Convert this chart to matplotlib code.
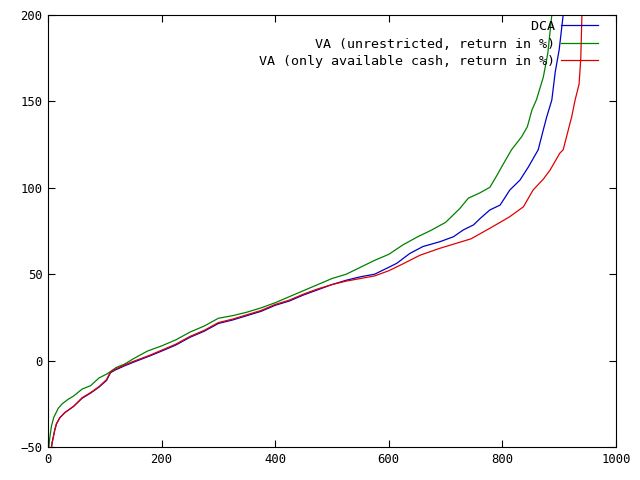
import matplotlib
matplotlib.use("Agg")
import matplotlib.pyplot as plt

# ---- data (sorted returns per run) ----
green_x = [0, 3, 6, 10, 18, 25, 35, 45, 60, 75, 90, 105, 120, 135, 150, 175, 200, 225,
           250, 275, 300, 325, 350, 375, 400, 425, 450, 475, 500, 525, 550, 575, 600,
           625, 650, 675, 700, 725, 740, 760, 778, 790, 802, 816, 834, 844, 852, 860,
           872, 880, 887, 890]
green_y = [-55, -45, -38, -33, -27.6, -25, -22.5, -20.5, -16.5, -14.5, -10, -7.5, -4, -2,
           1, 5.5, 8.5, 12, 16.5, 20, 24.5, 26, 28, 30.5, 33.5, 37, 40.5, 44, 47.5, 50,
           54, 58, 61.5, 67, 71.5, 75.5, 80, 88, 94, 97, 100.3, 107, 114, 122, 129.6,
           135.4, 145, 151, 164, 178, 200, 215]

red_x = [4, 7, 12, 15, 21, 30, 45, 60, 75, 90, 103, 110, 118, 135, 150, 180, 200, 225,
         250, 275, 300, 325, 350, 375, 400, 425, 450, 475, 500, 525, 550, 575, 600, 625,
         655, 690, 720, 745, 778, 796, 813, 837, 854, 872, 884, 901, 907, 916, 922, 928,
         935, 938, 940, 941]
red_y = [-55, -48, -40, -36.5, -33, -30, -26.5, -21.5, -18.5, -15, -11, -6.5, -5, -2.5,
         -0.5, 3.2, 6, 9.5, 14, 17.5, 22, 24, 26.5, 29, 32.5, 35, 38.5, 41.5, 44, 46,
         47.5, 49, 52, 56, 61, 65, 68, 70.5, 76.6, 80, 83.3, 89, 98.7, 105, 110.3, 120,
         122, 133.5, 141.1, 150.8, 160, 175, 200, 215]

blue_x = [4, 7, 12, 15, 21, 30, 45, 60, 75, 90, 103, 110, 118, 135, 150, 180, 200, 225,
          250, 275, 300, 325, 350, 375, 400, 425, 450, 475, 500, 525, 550, 575, 600, 614,
          637, 660, 690, 714, 731, 749, 761, 778, 796, 813, 831, 846, 863, 872, 878, 887,
          893, 900, 907, 909]
blue_y = [-55, -48, -40, -36.5, -33, -30, -26.5, -21.8, -18.8, -15.3, -11.5, -7, -5.5,
          -3, -1, 2.8, 5.5, 9, 13.5, 17, 21.5, 23.5, 26, 28.5, 32, 34.5, 38, 41, 44, 46.5,
          48.5, 50, 54, 56.3, 62, 66, 68.8, 71.7, 75.6, 78.5, 82.3, 87.2, 90, 98.7, 104.5,
          112.2, 122, 133.5, 141, 150.8, 167, 180, 200, 215]

labels = ["DCA", "VA (unrestricted, return in %)", "VA (only available cash, return in %)"]
colors = ["#0000c8", "#008000", "#e00000"]

xticks = [0, 200, 400, 600, 800, 1000]
yticks = [-50, 0, 50, 100, 150, 200]

plt.rcParams['font.family'] = ['DejaVu Sans Mono', 'DejaVu Sans']

fig = plt.figure(figsize=(6.4, 4.8), dpi=100)
ax = fig.add_axes([48 / 640, 33 / 480, (616 - 48) / 640, (447 - 15) / 480])

width = max(len(s) for s in labels)
series = [(blue_x, blue_y), (green_x, green_y), (red_x, red_y)]
for (xs, ys), lab, c in zip(series, labels, colors):
    ax.plot(xs, ys, color=c, lw=0.9, label=lab.rjust(width))

ax.set_xlim(0, 1000)
ax.set_ylim(-50, 200)
ax.set_xticks(xticks)
ax.set_yticks(yticks)
ax.tick_params(direction='in', length=5, width=0.8, top=True, right=True,
               labelsize=8.8, pad=4)
for sp in ax.spines.values():
    sp.set_linewidth(0.8)

leg = ax.legend(loc='upper right', bbox_to_anchor=((600 - 48) / 568 - 0.003, 1 - 5 / 432),
                frameon=False, markerfirst=False, fontsize=9.6, handlelength=2.8,
                handletextpad=0.45, labelspacing=0.34, borderaxespad=0, borderpad=0)

fig.savefig("out.png", dpi=100)
